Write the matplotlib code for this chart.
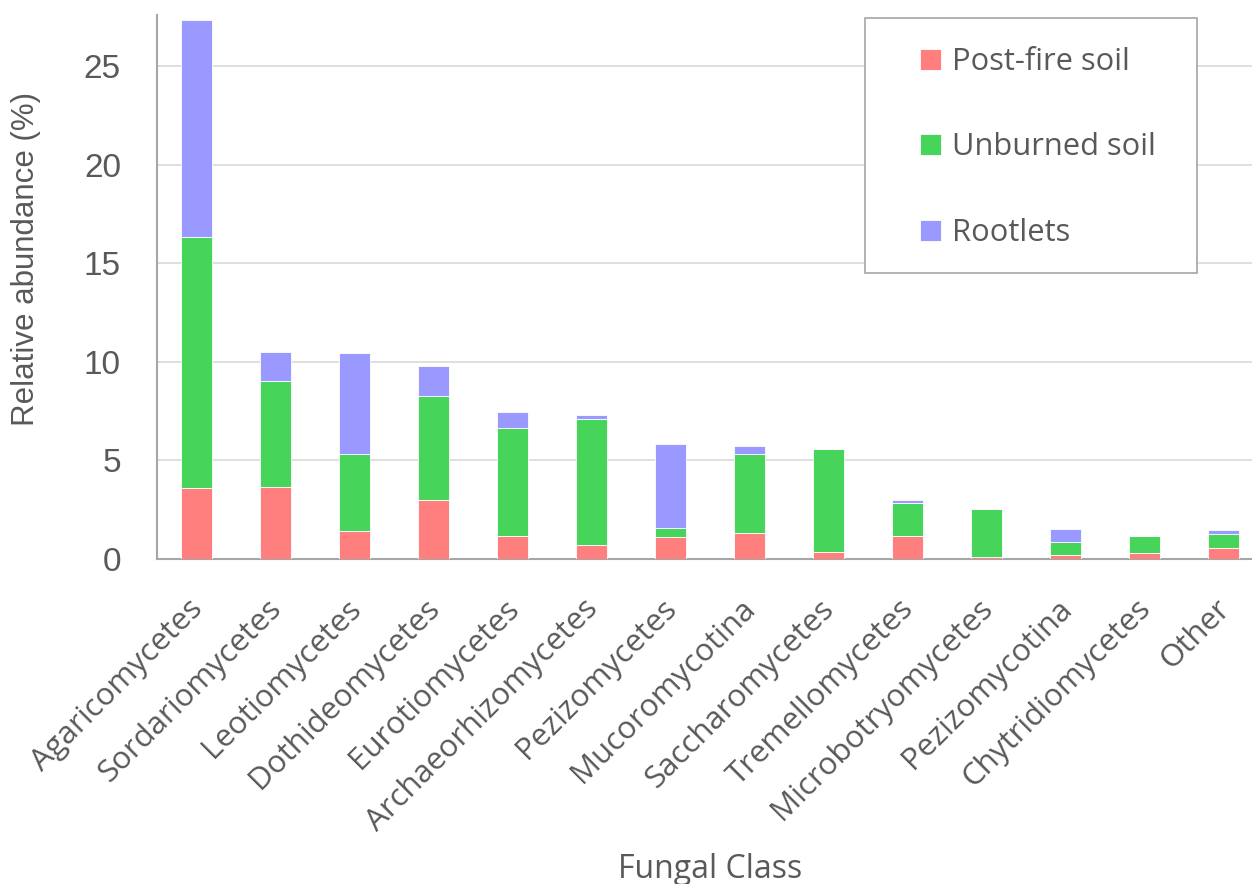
import matplotlib
matplotlib.use("Agg")
import matplotlib.pyplot as plt
import matplotlib.transforms as mtransforms
from matplotlib.patches import Rectangle
import numpy as np

# Relative abundance (%) per fungal class
classes = ["Agaricomycetes", "Sordariomycetes", "Leotiomycetes", "Dothideomycetes",
           "Eurotiomycetes", "Archaeorhizomycetes", "Pezizomycetes", "Mucoromycotina",
           "Saccharomycetes", "Tremellomycetes", "Microbotryomycetes", "Pezizomycotina",
           "Chytridiomycetes", "Other"]
post_fire = [3.6, 3.65, 1.41, 3.0, 1.17, 0.69, 1.10, 1.32, 0.37, 1.16, 0.10, 0.20, 0.31, 0.54]
unburned = [12.74, 5.39, 3.92, 5.28, 5.48, 6.41, 0.49, 4.0, 5.19, 1.66, 2.45, 0.68, 0.86, 0.72]
rootlets = [11.02, 1.48, 5.10, 1.50, 0.81, 0.22, 4.26, 0.39, 0.0, 0.19, 0.0, 0.63, 0.0, 0.22]
y_ticks = [0, 5, 10, 15, 20, 25]

c_post = "#FF7F7F"
c_unb = "#47D45A"
c_root = "#9999FF"
txt = "#595959"

fig = plt.figure(figsize=(12.52, 8.84), dpi=100)
ax = fig.add_axes([157 / 1252, 1 - 559 / 884, 1095 / 1252, 544 / 884])

x = np.arange(len(classes))
post_fire = np.array(post_fire)
unburned = np.array(unburned)
rootlets = np.array(rootlets)
w = 0.4
ax.bar(x, post_fire, w, color=c_post, edgecolor="white", linewidth=0.6, label="Post-fire soil", zorder=3)
ax.bar(x, unburned, w, bottom=post_fire, color=c_unb, edgecolor="white", linewidth=0.6,
       label="Unburned soil", zorder=3)
ax.bar(x, rootlets, w, bottom=post_fire + unburned, color=c_root, edgecolor="white", linewidth=0.6,
       label="Rootlets", zorder=3)

ax.set_xlim(-0.5, -0.5 + 1095 / 79)
ax.set_ylim(0, 27.6)
ax.set_yticks(y_ticks)
ax.set_yticklabels([str(t) for t in y_ticks], fontsize=24, color=txt, family="Liberation Sans")
ax.set_xticks(x)
ax.set_xticklabels([])
# category labels, slanted, sitting a little left of each bar like the reference
shift = mtransforms.ScaledTranslation(-0.09, -0.345, fig.dpi_scale_trans)
for xi, name in zip(x, classes):
    ax.text(xi, 0, name, transform=ax.get_xaxis_transform() + shift, rotation=45,
            ha="right", va="top", rotation_mode="anchor", fontsize=22.5, color=txt,
            family="Open Sans")
ax.tick_params(axis="both", length=0)
ax.tick_params(axis="y", pad=26)
ax.grid(axis="y", color="#D9D9D9", linewidth=1.2, zorder=0)
for s in ["top", "right"]:
    ax.spines[s].set_visible(False)
for s in ["left", "bottom"]:
    ax.spines[s].set_color("#A6A6A6")
    ax.spines[s].set_linewidth(1.5)

ax.set_ylabel("Relative abundance (%)", fontsize=22.5, color=txt, family="Liberation Sans")
ax.yaxis.set_label_coords(-0.106, 0.551)

fig.text(710 / 1252, 1 - 853 / 884, "Fungal Class", fontsize=23, color=txt,
         family="Open Sans", ha="center", va="top")

# legend frame drawn separately so the padding can match the reference
ax.add_patch(Rectangle((0.6466, 0.5257), 0.3032, 0.4688, transform=ax.transAxes,
                       facecolor="white", edgecolor="#A6A6A6", linewidth=1.2, zorder=5,
                       clip_on=False))
leg = ax.legend(loc="upper left", bbox_to_anchor=(0.6968, 0.9412), frameon=False,
                fontsize=22.2, labelspacing=1.80, handlelength=0.67, handleheight=0.67,
                handletextpad=0.38, borderpad=0, borderaxespad=0)
leg.set_zorder(6)
for t in leg.get_texts():
    t.set_color(txt)
    t.set_family("Open Sans")

fig.savefig("out.png", dpi=100)
